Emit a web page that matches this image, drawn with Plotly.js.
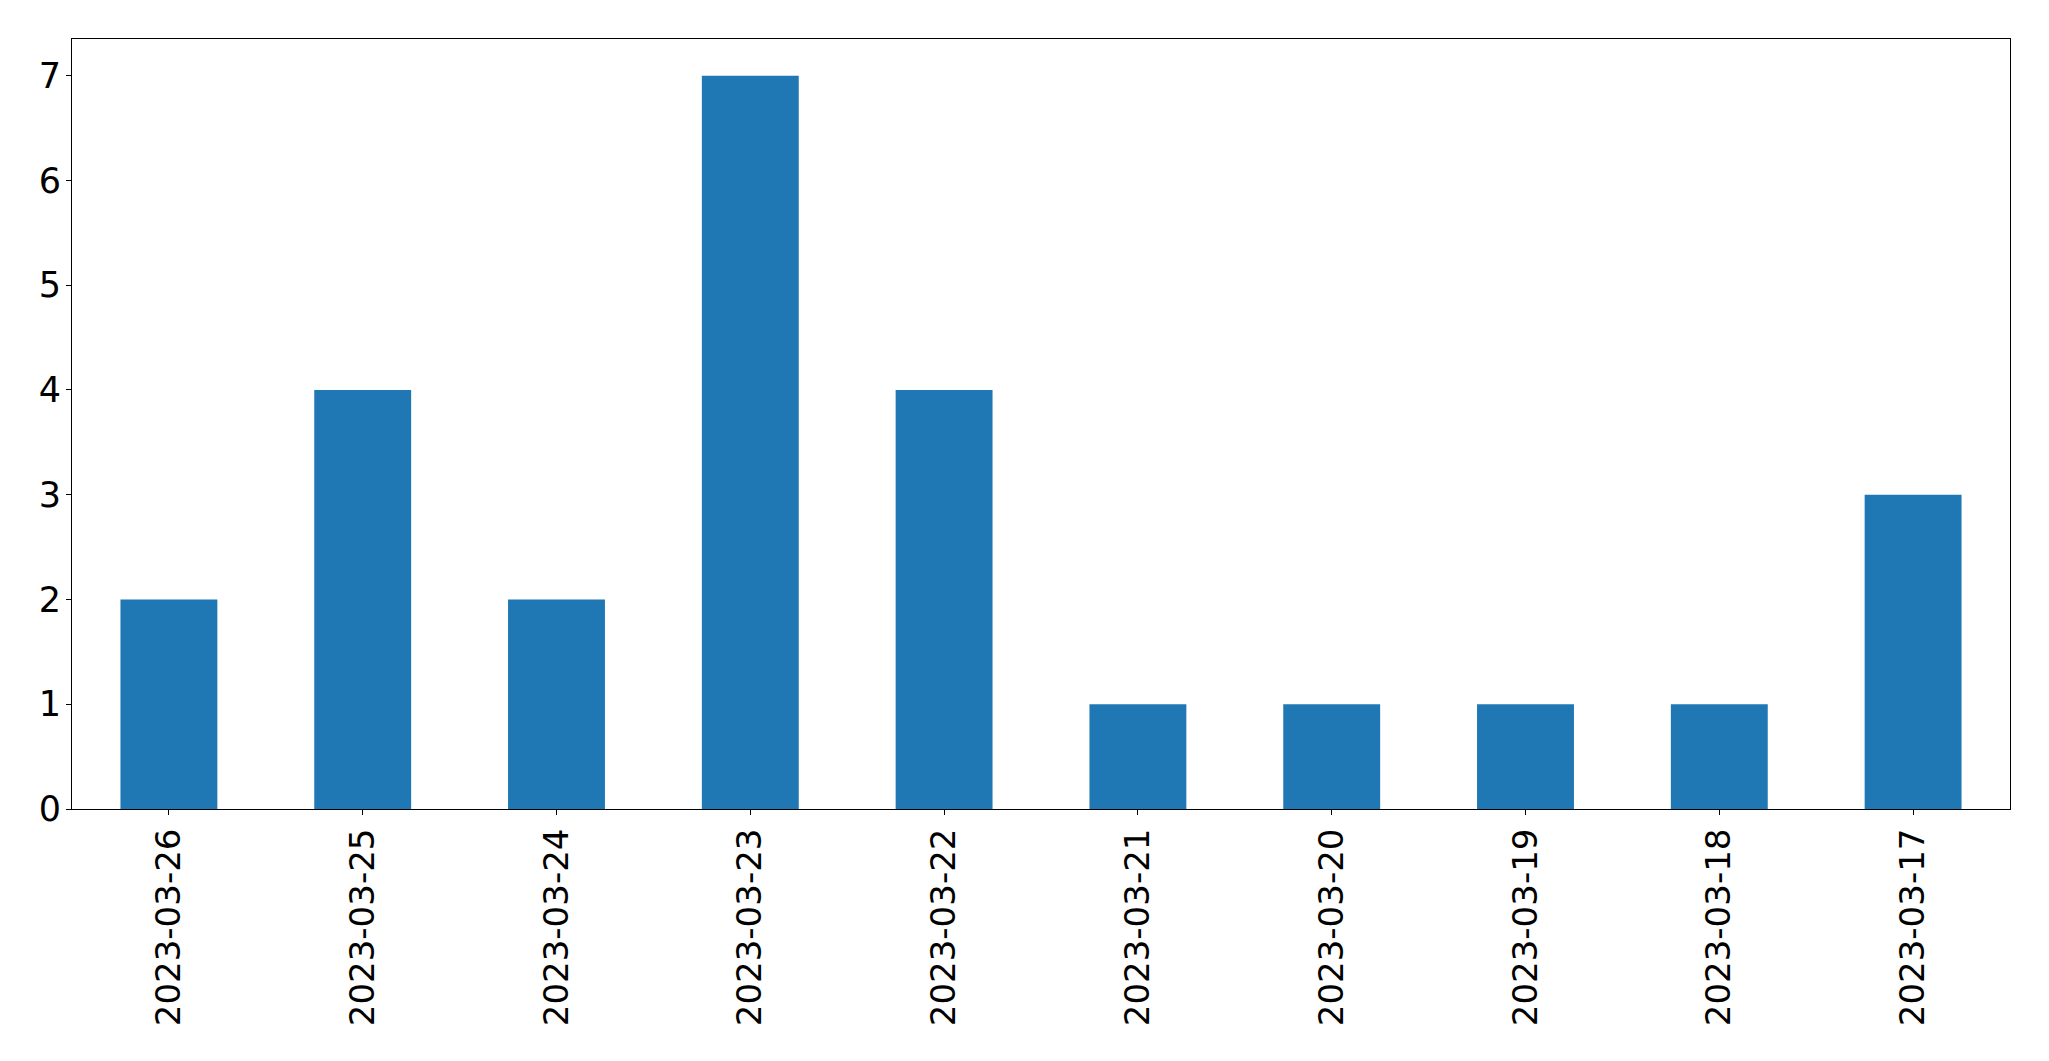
<!DOCTYPE html>
<html>
<head>
<meta charset="utf-8">
<script src="https://cdn.plot.ly/plotly-3.0.1.min.js"></script>
<style>html,body{margin:0;padding:0;background:#fff;}#chart{width:2049px;height:1061px;}</style>
</head>
<body>
<div id="chart"></div>
<script>
const dates = ["2023-03-26","2023-03-25","2023-03-24","2023-03-23","2023-03-22","2023-03-21","2023-03-20","2023-03-19","2023-03-18","2023-03-17"];
const counts = [2,4,2,7,4,1,1,1,1,3];
const yTicks = [0,1,2,3,4,5,6,7];

const trace = {
  type: 'bar',
  x: dates,
  y: counts,
  width: 0.5,
  marker: {color: '#1f77b4', line: {width: 0}},
  hoverinfo: 'x+y'
};

const layout = {
  width: 2049,
  height: 1061,
  margin: {l: 72, r: 39, t: 39, b: 252, pad: 0},
  paper_bgcolor: '#ffffff',
  plot_bgcolor: '#ffffff',
  showlegend: false,
  font: {family: 'DejaVu Sans', size: 34, color: '#000000'},
  xaxis: {
    type: 'category',
    range: [-0.5, 9.5],
    tickangle: -90,
    ticks: 'outside',
    ticklen: 5,
    tickwidth: 1,
    tickcolor: '#000',
    showline: true,
    linecolor: '#000',
    linewidth: 1,
    mirror: true,
    showgrid: false,
    zeroline: false,
    tickfont: {family: 'DejaVu Sans', size: 34, color: '#000'}
  },
  yaxis: {
    range: [0, 7.35],
    tickvals: yTicks,
    ticktext: yTicks.map(String),
    ticks: 'outside',
    ticklen: 5,
    tickwidth: 1,
    tickcolor: '#000',
    ticklabelstandoff: -2,
    showline: true,
    linecolor: '#000',
    linewidth: 1,
    mirror: true,
    showgrid: false,
    zeroline: false,
    tickfont: {family: 'DejaVu Sans', size: 35, color: '#000'}
  }
};

Plotly.newPlot('chart', [trace], layout, {displayModeBar: false, staticPlot: true});
</script>
</body>
</html>
